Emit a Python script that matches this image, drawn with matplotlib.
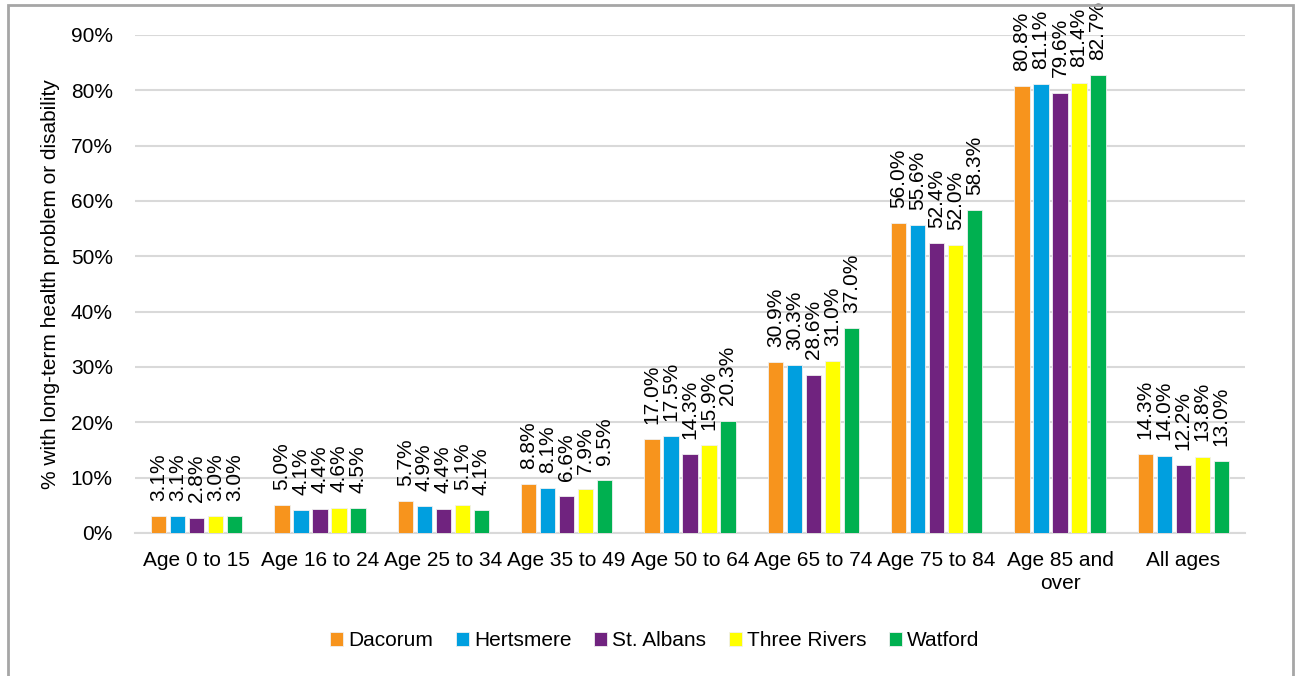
import matplotlib
matplotlib.use("Agg")
import matplotlib.pyplot as plt
import numpy as np
from matplotlib.patches import Rectangle

plt.rcParams['font.family'] = ['Liberation Sans', 'DejaVu Sans']

categories = ["Age 0 to 15", "Age 16 to 24", "Age 25 to 34", "Age 35 to 49", "Age 50 to 64",
              "Age 65 to 74", "Age 75 to 84", "Age 85 and\nover", "All ages"]
series = ["Dacorum", "Hertsmere", "St. Albans", "Three Rivers", "Watford"]
dacorum = [3.1, 5.0, 5.7, 8.8, 17.0, 30.9, 56.0, 80.8, 14.3]
hertsmere = [3.1, 4.1, 4.9, 8.1, 17.5, 30.3, 55.6, 81.1, 14.0]
st_albans = [2.8, 4.4, 4.4, 6.6, 14.3, 28.6, 52.4, 79.6, 12.2]
three_rivers = [3.0, 4.6, 5.1, 7.9, 15.9, 31.0, 52.0, 81.4, 13.8]
watford = [3.0, 4.5, 4.1, 9.5, 20.3, 37.0, 58.3, 82.7, 13.0]
values = [dacorum, hertsmere, st_albans, three_rivers, watford]
colors = ["#F7941D", "#009FDF", "#70237F", "#FFFF00", "#00B050"]
yticks = [0, 10, 20, 30, 40, 50, 60, 70, 80, 90]

fig = plt.figure(figsize=(12.95, 6.76), dpi=100)
ax = fig.add_axes([135/1295, 1-533/676, 1110/1295, (533-35)/676])

x = np.arange(len(categories))
pitch = 0.154
bw = 0.125
fs = 15
for i, (name, vals, c) in enumerate(zip(series, values, colors)):
    pos = x + (i - 2) * pitch
    ax.bar(pos, vals, width=bw, color=c, label=name, edgecolor='#f0f0f0', linewidth=0.6, zorder=3)
    for xp, v in zip(pos, vals):
        ax.annotate(f"{v:.1f}%", (xp, v), xytext=(0, 11), textcoords='offset points',
                    rotation=90, ha='center', va='bottom', fontsize=fs, clip_on=False,
                    annotation_clip=False)

ax.set_xlim(-0.5, len(categories) - 0.5)
ax.set_ylim(0, 90)
ax.set_yticks(yticks)
ax.set_yticklabels([f"{t}%" for t in yticks], fontsize=fs)
ax.set_xticks(x)
ax.set_xticklabels(categories, fontsize=fs, linespacing=1.25)
ax.tick_params(axis='both', length=0)
ax.tick_params(axis='y', pad=16)
ax.tick_params(axis='x', pad=13)
ax.grid(axis='y', color='#d9d9d9', linewidth=1.5, zorder=0)
for s in ['top', 'right', 'left']:
    ax.spines[s].set_visible(False)
ax.spines['bottom'].set_color('#d9d9d9')
ax.spines['bottom'].set_linewidth(1.5)
ax.set_ylabel("% with long-term health problem or disability", fontsize=fs, labelpad=8)

fig.legend(loc='center', bbox_to_anchor=(655/1295, 1-641/676), ncol=5, frameon=False,
           fontsize=fs, handlelength=0.62, handleheight=0.62, handletextpad=0.24,
           columnspacing=1.1)

fig.patches.append(Rectangle((8/1295, -0.05), (1293-8)/1295, 1.05 - 5/676, transform=fig.transFigure,
                             fill=False, edgecolor='#a6a6a6', linewidth=2))

fig.savefig("out.png", dpi=100)
